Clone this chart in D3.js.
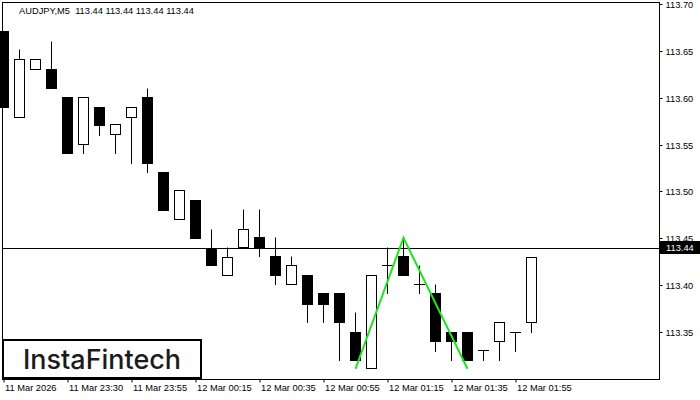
<!DOCTYPE html>
<html>
<head>
<meta charset="utf-8">
<script src="https://cdn.jsdelivr.net/npm/d3@7"></script>
<style>
  html, body { margin: 0; padding: 0; background: #fff; }
  svg { display: block; }
</style>
</head>
<body>
<svg id="chart" width="700" height="400"></svg>
<script>
// ---- data (AUDJPY, M5) ----
const symbolTitle = "AUDJPY,M5  113.44 113.44 113.44 113.44";
const opens  = [113.671,113.580,113.631,113.631,113.601,113.551,113.590,113.561,113.580,113.601,
                113.521,113.471,113.491,113.440,113.411,113.441,113.451,113.431,113.401,113.411,
                113.391,113.391,113.350,113.311,113.421,113.431,113.401,113.391,113.350,113.350,
                113.331,113.340,113.350,113.361];
const highs  = [113.671,113.652,113.641,113.661,113.601,113.601,113.590,113.572,113.590,113.611,
                113.521,113.501,113.491,113.460,113.441,113.481,113.481,113.451,113.431,113.411,
                113.391,113.391,113.371,113.411,113.441,113.451,113.421,113.401,113.350,113.350,
                113.331,113.361,113.350,113.430];
const lows   = [113.590,113.580,113.631,113.610,113.541,113.541,113.560,113.541,113.530,113.521,
                113.480,113.471,113.450,113.421,113.411,113.441,113.431,113.401,113.401,113.360,
                113.360,113.320,113.320,113.311,113.391,113.411,113.391,113.330,113.320,113.320,
                113.320,113.320,113.330,113.350];
const closes = [113.590,113.641,113.641,113.610,113.541,113.601,113.571,113.572,113.590,113.530,
                113.480,113.501,113.450,113.421,113.430,113.460,113.440,113.411,113.421,113.380,
                113.380,113.360,113.320,113.411,113.421,113.411,113.401,113.340,113.340,113.320,
                113.331,113.361,113.350,113.430];
const xTickIndex  = [0, 4, 8, 12, 16, 20, 24, 28, 32];
const xTickLabels = ["11 Mar 2026","11 Mar 23:30","11 Mar 23:55","12 Mar 00:15","12 Mar 00:35",
                     "12 Mar 00:55","12 Mar 01:15","12 Mar 01:35","12 Mar 01:55"];
const yTicks = [113.35, 113.40, 113.45, 113.50, 113.55, 113.60, 113.65, 113.70];
const currentPrice = 113.44;
const patternIndex = [22, 25, 29];
const patternPrice = [113.311, 113.451, 113.311];
const logoText = "InstaFintech";

// ---- layout ----
const svg = d3.select("#chart");
const plotL = 2.5, plotR = 659.5, plotT = 2.5, plotB = 379.5;
const x = d3.scaleLinear().domain([0, 33]).range([3.5, 531.5]);
const y = d3.scaleLinear().domain([113.30, 113.70]).range([379.1, 4.7]);
const sy = v => Math.floor(y(v)) + 0.5;
const font = "'Liberation Sans', Arial, sans-serif";

svg.append("rect").attr("width", 700).attr("height", 400).attr("fill", "#fff");

const clip = svg.append("clipPath").attr("id", "plotclip")
  .append("rect").attr("x", 0).attr("y", plotT).attr("width", plotR).attr("height", plotB - plotT);

const g = svg.append("g").attr("clip-path", "url(#plotclip)");

// current price line
g.append("line")
  .attr("x1", plotL).attr("x2", plotR)
  .attr("y1", sy(currentPrice)).attr("y2", sy(currentPrice))
  .attr("stroke", "#000").attr("stroke-width", 1);

const candles = opens.map((o, i) => ({ i, o, h: highs[i], l: lows[i], c: closes[i] }));

const cg = g.selectAll("g.candle").data(candles).join("g").attr("class", "candle");
// wicks
cg.append("line")
  .attr("x1", d => x(d.i)).attr("x2", d => x(d.i))
  .attr("y1", d => sy(d.h)).attr("y2", d => sy(d.l) + 0.5)
  .attr("stroke", "#000").attr("stroke-width", 1);
// bodies
cg.filter(d => d.o !== d.c).append("rect")
  .attr("x", d => x(d.i) - 5)
  .attr("y", d => sy(Math.max(d.o, d.c)))
  .attr("width", 10)
  .attr("height", d => sy(Math.min(d.o, d.c)) - sy(Math.max(d.o, d.c)))
  .attr("fill", d => d.c < d.o ? "#000" : "#fff")
  .attr("stroke", "#000").attr("stroke-width", 1);
// doji
cg.filter(d => d.o === d.c).append("line")
  .attr("x1", d => x(d.i) - 5.5).attr("x2", d => x(d.i) + 5.5)
  .attr("y1", d => sy(d.o)).attr("y2", d => sy(d.o))
  .attr("stroke", "#000").attr("stroke-width", 1);

// pattern line
const pts = patternIndex.map((k, j) => [x(k), y(patternPrice[j])]);
g.append("path")
  .attr("d", d3.line()(pts))
  .attr("fill", "none").attr("stroke", "#1ee41e").attr("stroke-width", 2)
  .attr("stroke-linejoin", "miter");

// frame
svg.append("rect")
  .attr("x", plotL).attr("y", plotT).attr("width", plotR - plotL).attr("height", plotB - plotT)
  .attr("fill", "none").attr("stroke", "#000").attr("stroke-width", 1);

// right axis
const yAxis = d3.axisRight(y).tickValues(yTicks).tickSize(3).tickPadding(3).tickFormat(d3.format(".2f"));
const ya = svg.append("g").attr("transform", `translate(${plotR},0.5)`).call(yAxis);
ya.select(".domain").remove();
ya.selectAll(".tick").attr("transform", d => `translate(0,${Math.floor(y(d))})`);
ya.selectAll("text").attr("font-family", font).attr("font-size", 9.3).attr("fill", "#000").attr("dy", "0.36em");

// bottom axis
const xAxis = d3.axisBottom(x).tickValues(xTickIndex).tickSize(3).tickPadding(2)
  .tickFormat((d, k) => xTickLabels[k]);
const xa = svg.append("g").attr("transform", `translate(0,${plotB})`).call(xAxis);
xa.select(".domain").remove();
xa.selectAll("text").attr("font-family", font).attr("font-size", 9.3).attr("fill", "#000")
  .attr("text-anchor", "start").attr("dx", 1).attr("y", 5).attr("dy", "0.71em");

// current price box
svg.append("rect").attr("x", 660).attr("y", 241).attr("width", 40).attr("height", 13).attr("fill", "#000");
svg.append("text").attr("x", 666).attr("y", 251.3)
  .attr("font-family", font).attr("font-size", 9.3).attr("fill", "#fff")
  .text(d3.format(".2f")(currentPrice));

// title
svg.append("text").attr("x", 19).attr("y", 14).attr("xml:space", "preserve")
  .style("white-space", "pre")
  .attr("font-family", font).attr("font-size", 9.3).attr("fill", "#000")
  .text(symbolTitle);

// logo
svg.append("rect").attr("x", 3).attr("y", 340).attr("width", 198).attr("height", 38)
  .attr("fill", "#fff").attr("stroke", "#000").attr("stroke-width", 2);
svg.append("text").attr("x", 23).attr("y", 369)
  .attr("font-family", "Inter, 'Noto Sans', sans-serif").attr("font-weight", 500)
  .attr("font-size", 27).attr("fill", "#1b1b1b")
  .attr("textLength", 158).attr("lengthAdjust", "spacingAndGlyphs")
  .text(logoText);
</script>
</body>
</html>
